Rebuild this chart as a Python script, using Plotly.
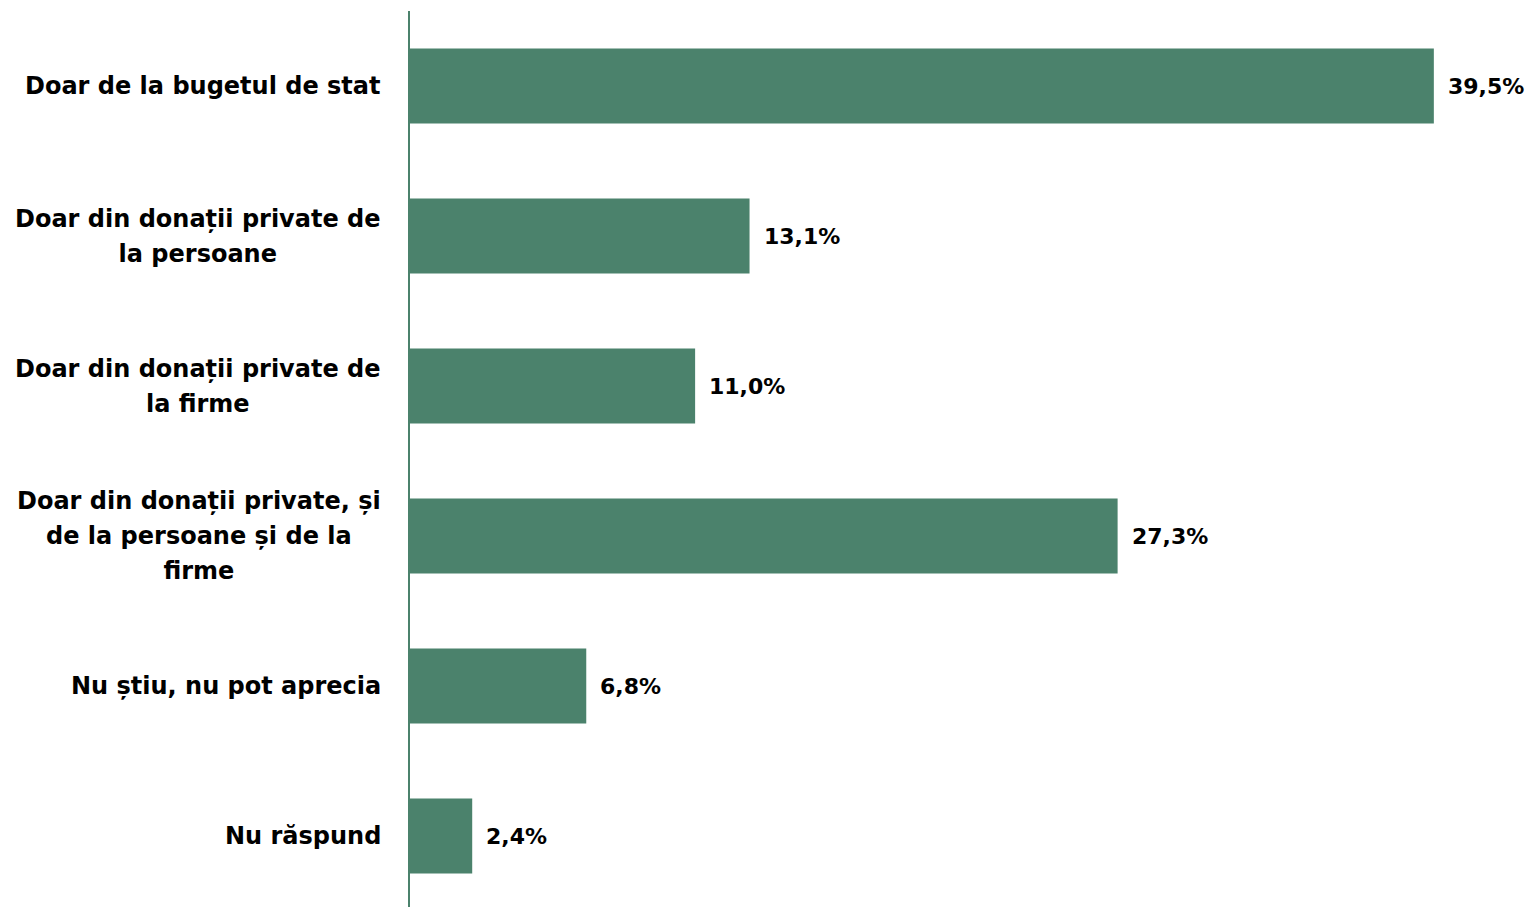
import plotly.graph_objects as go

categories = [
    "Doar de la bugetul de stat",
    "Doar din donații private de<br>la persoane",
    "Doar din donații private de<br>la firme",
    "Doar din donații private, și<br>de la persoane și de la<br>firme",
    "Nu știu, nu pot aprecia",
    "Nu răspund",
]
values = [39.5, 13.1, 11.0, 27.3, 6.8, 2.4]
value_labels = ["39,5%", "13,1%", "11,0%", "27,3%", "6,8%", "2,4%"]

green = "#4B826C"
font_family = "'DejaVu Sans', sans-serif"

fig = go.Figure(go.Bar(
    x=values,
    y=list(range(len(categories))),
    orientation="h",
    marker=dict(color=green, line=dict(width=0)),
    width=0.5,
    hoverinfo="skip",
))

# category labels as annotations so wrapped lines are centred
for i, c in enumerate(categories):
    fig.add_annotation(
        x=0, xref="paper", xanchor="right", xshift=-27,
        y=i, yref="y", yanchor="middle",
        text='<span style="font-size:24px">%s</span>' % c,
        showarrow=False, align="center",
        font=dict(family=font_family, size=27, color="black", weight="bold"),
    )

# value labels
for i, (v, t) in enumerate(zip(values, value_labels)):
    fig.add_annotation(
        x=v, xref="x", xanchor="left", xshift=12,
        y=i, yref="y", yanchor="middle",
        text=t, showarrow=False,
        font=dict(family=font_family, size=22, color="black", weight="bold"),
    )

fig.update_layout(
    width=1525, height=899,
    margin=dict(l=402, r=3, t=3, b=0),
    plot_bgcolor="white", paper_bgcolor="white",
    showlegend=False,
)
fig.update_xaxes(range=[0, 43.21], showgrid=False, showticklabels=False,
                 zeroline=False, showline=False, ticks="")
fig.update_yaxes(range=[5.473, -0.5], showgrid=False, showticklabels=False,
                 zeroline=False, showline=True, linecolor=green, linewidth=2,
                 ticks="")

fig.write_html("out.html")
